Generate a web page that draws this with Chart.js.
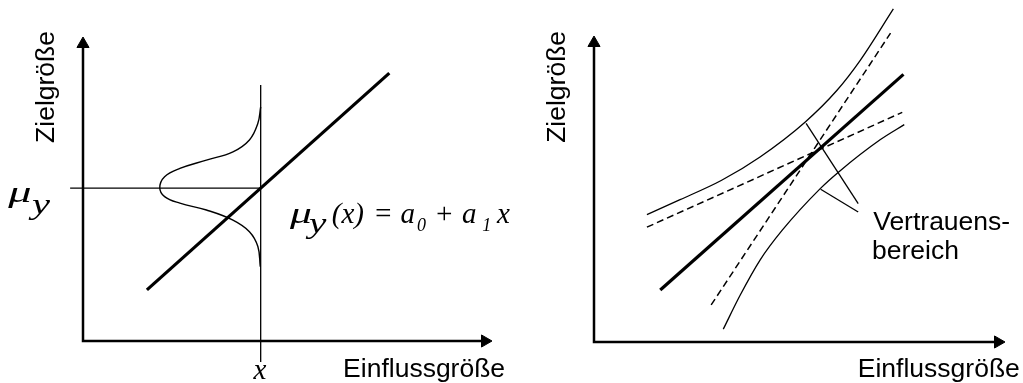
<!DOCTYPE html>
<html>
<head>
<meta charset="utf-8">
<title>Regressionsmodell und Vertrauensbereich</title>
<script src="https://cdn.jsdelivr.net/npm/chart.js"></script>
<style>
  body { margin: 0; background: #fff; }
  .panel { position: absolute; top: 0; height: 383px; }
  #left { left: 0; width: 511px; }
  #right { left: 511px; width: 512px; }
</style>
</head>
<body>
<div class="panel" id="left"><canvas id="modelChart"></canvas></div>
<div class="panel" id="right"><canvas id="bandChart"></canvas></div>
<script>
// axis titles and captions
const xTitle = 'Einflussgröße';
const yTitle = 'Zielgröße';
const bandText = ['Vertrauens-', 'bereich'];

// left panel: model line, density of y at x, mean level
const axesLeft = [[0, 10], [0, 0], [10, 0]];
const fitLeft = [[1.59, 1.72], [7.62, 9.02]];
const xMark = [[4.42, 8.62], [4.42, -0.71]];
const muLevel = [[-0.32, 5.15], [4.42, 5.15]];
const density = [[4.42, 7.88], [4.35, 7.33], [4.14, 6.77], [3.73, 6.37], [3.07, 6.09],
  [2.41, 5.81], [2.03, 5.53], [1.91, 5.16], [2.03, 4.86], [2.41, 4.64], [3.07, 4.41],
  [3.73, 4.07], [4.14, 3.68], [4.35, 3.18], [4.41, 2.50]];

// right panel: fitted line, extreme lines, confidence band, pointers
const axesRight = [[0, 10], [0, 0], [10, 0]];
const fitRight = [[1.64, 1.74], [7.66, 8.95]];
const steepLine = [[2.90, 1.24], [7.34, 10.33]];
const flatLine = [[1.31, 3.84], [7.63, 7.68]];
const bandUpper = [[1.31, 4.26], [2.13, 4.76], [3.16, 5.41], [4.11, 6.19], [5.23, 7.36],
  [6.01, 8.41], [6.59, 9.42], [7.41, 11.14]];
const bandLower = [[3.20, 0.43], [3.62, 1.57], [4.11, 2.74], [4.66, 3.74], [5.60, 5.13],
  [6.05, 5.68], [7.09, 6.77], [7.68, 7.27]];
const pointerUp = [[5.25, 7.31], [6.54, 4.63]];
const pointerLow = [[5.61, 5.11], [6.54, 4.35]];

const sans = '26.5px "Liberation Sans", Arial, sans-serif';
const serif = (size) => 'italic ' + size + 'px "Liberation Serif", "Times New Roman", serif';

function line(points, width, extra) {
  return Object.assign({
    data: points.map(([x, y]) => ({ x, y })),
    showLine: true,
    borderColor: '#000',
    borderWidth: width,
    pointRadius: 0,
    tension: 0,
    clip: false
  }, extra || {});
}

function axes(points) {
  return line(points, 2.5, {
    pointStyle: 'triangle',
    pointRadius: [7, 0, 7],
    pointRotation: [0, 0, 90],
    pointBackgroundColor: '#000',
    pointBorderColor: '#000',
    pointBorderWidth: 1,
    borderJoinStyle: 'miter'
  });
}

// band curves are monotone in x
const smooth = { cubicInterpolationMode: 'monotone' };

// text placed in data units, drawn after the lines
const notes = {
  id: 'notes',
  afterDatasetsDraw(chart, args, opts) {
    const { ctx, scales: { x, y } } = chart;
    ctx.save();
    ctx.fillStyle = '#000';
    ctx.textBaseline = 'alphabetic';
    for (const n of opts.items) {
      ctx.save();
      ctx.translate(x.getPixelForValue(n.at[0]), y.getPixelForValue(n.at[1]));
      if (n.rotate) ctx.rotate(n.rotate * Math.PI / 180);
      if (n.sx) ctx.scale(n.sx, 1);
      ctx.font = n.font;
      ctx.textAlign = n.align || 'left';
      ctx.fillText(n.text, 0, 0);
      ctx.restore();
    }
    ctx.restore();
  }
};

function options(padding, items) {
  return {
    responsive: true,
    maintainAspectRatio: false,
    animation: false,
    events: [],
    layout: { padding },
    scales: {
      x: { type: 'linear', min: 0, max: 10, display: false },
      y: { type: 'linear', min: 0, max: 10, display: false }
    },
    plugins: {
      legend: { display: false },
      tooltip: { enabled: false },
      notes: { items }
    }
  };
}

new Chart(document.getElementById('modelChart'), {
  type: 'scatter',
  data: {
    datasets: [
      axes(axesLeft),
      line(xMark, 1.3),
      line(muLevel, 1.3),
      line(density, 1.4, { tension: 0.4 }),
      line(fitLeft, 3.2)
    ]
  },
  options: options({ left: 83, right: 26, top: 44, bottom: 42 }, [
    { text: yTitle, at: [-0.73, 6.67], rotate: -90, font: sans },
    { text: xTitle, at: [6.47, -1.21], font: sans },
    { text: 'x', at: [4.40, -1.28], align: 'center', font: serif(29) },
    { text: 'μ', at: [-1.86, 4.68], font: serif(29), sx: 1.6 },
    { text: 'y', at: [-1.27, 4.28], font: serif(29), sx: 1.4 },
    { text: 'μ', at: [5.15, 3.97], font: serif(29), sx: 1.5 },
    { text: 'y', at: [5.62, 3.62], font: serif(29), sx: 1.35 },
    { text: '(x)', at: [6.19, 3.97], font: serif(29) },
    { text: '=', at: [7.22, 3.97], font: serif(29) },
    { text: 'a', at: [7.90, 3.97], font: serif(29) },
    { text: '0', at: [8.31, 3.70], font: serif(18) },
    { text: '+', at: [8.74, 3.97], font: serif(29) },
    { text: 'a', at: [9.43, 3.97], font: serif(29) },
    { text: '1', at: [9.93, 3.70], font: serif(18) },
    { text: 'x', at: [10.30, 3.97], font: serif(29) }
  ]),
  plugins: [notes]
});

new Chart(document.getElementById('bandChart'), {
  type: 'scatter',
  data: {
    datasets: [
      axes(axesRight),
      line(bandUpper, 1.3, smooth),
      line(bandLower, 1.3, smooth),
      line(steepLine, 1.5, { borderDash: [7, 4] }),
      line(flatLine, 1.5, { borderDash: [7, 4] }),
      line(pointerUp, 1.3),
      line(pointerLow, 1.3),
      line(fitRight, 3.2)
    ]
  },
  options: options({ left: 83, right: 25, top: 43, bottom: 41 }, [
    { text: yTitle, at: [-0.71, 6.66], rotate: -90, font: sans },
    { text: xTitle, at: [6.53, -1.17], font: sans },
    { text: bandText[0], at: [6.91, 3.75], font: sans },
    { text: bandText[1], at: [6.88, 2.78], font: sans }
  ]),
  plugins: [notes]
});
</script>
</body>
</html>
